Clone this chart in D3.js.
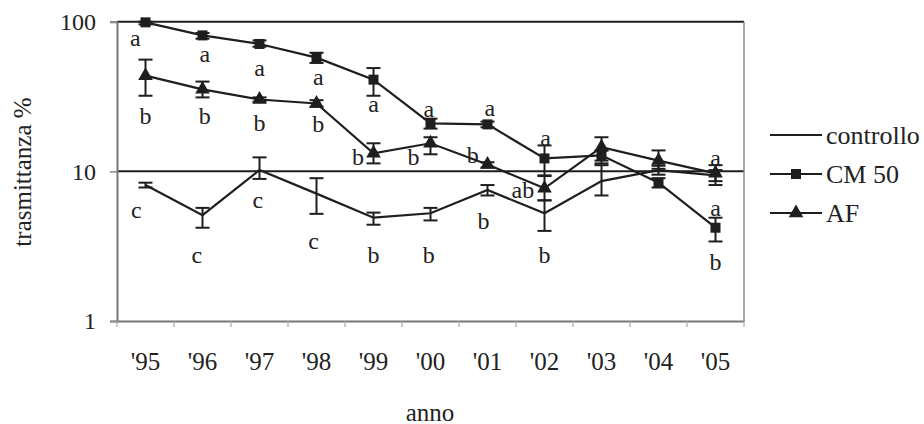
<!DOCTYPE html>
<html><head><meta charset="utf-8">
<script src="https://cdn.jsdelivr.net/npm/d3@7/dist/d3.min.js"></script>
</head>
<body style="margin:0;background:#fff"><svg id="c" width="924" height="424"></svg>
<script>
const years = ["'95","'96","'97","'98","'99","'00","'01","'02","'03","'04","'05"];
const yTicks = [1, 10, 100];

const controllo   = [8.1, 5.1, 10.2, 7.1, 4.9, 5.25, 7.5, 5.25, 8.6, 10.2, 9.4];
const controlloLo = [7.8, 4.2, 8.9, 5.2, 4.4, 4.7, 6.9, 4.0, 6.9, 9.5, 8.6];
const controlloHi = [8.4, 5.7, 12.4, 9.0, 5.3, 5.7, 8.1, 6.4, 11.0, 10.9, 10.2];

const cm50   = [99, 81, 71, 57.5, 41, 20.9, 20.6, 12.2, 12.8, 8.4, 4.2];
const cm50Lo = [96, 77, 68, 53, 32, 19.3, 19.7, 9.4, 11.8, 7.8, 3.4];
const cm50Hi = [100, 84, 75, 62, 49, 22.5, 21.5, 14.9, 13.8, 9.0, 4.9];

const af   = [43.6, 35.3, 30.2, 28.4, 13.2, 15.4, 11.1, 7.7, 14.5, 11.8, 9.7];
const afLo = [32, 31.2, 29.2, 27, 11.3, 13, 10.6, 6.4, 11.3, 10.4, 8.1];
const afHi = [55.8, 39.8, 31.2, 29.9, 15.4, 16.9, 11.5, 9.3, 16.9, 13.8, 11];

// significance letters: [year index, horizontal shift (band fraction), value, letter]
const letters = [
  [0,-0.18,78,"a"],[1,0.04,61,"a"],[2,0,49.4,"a"],[3,0.03,43,"a"],[4,0,28,"a"],
  [5,-0.03,26.3,"a"],[6,0.04,26.7,"a"],[7,0.02,16.6,"a"],[10,0,12.2,"a"],[10,0,5.67,"a"],[10,0,2.47,"b"],
  [0,0,23.6,"b"],[1,0.04,23.6,"b"],[2,0,21.2,"b"],[3,0.03,20.6,"b"],
  [4,-0.27,12.4,"b"],[5,-0.3,12.4,"b"],[6,-0.26,12.8,"b"],[7,-0.38,7.47,"ab"],
  [0,-0.16,5.5,"c"],[1,-0.1,2.75,"c"],[2,-0.03,6.41,"c"],[3,-0.05,3.41,"c"],
  [4,0,2.75,"b"],[5,-0.03,2.75,"b"],[6,-0.07,4.64,"b"],[7,0,2.75,"b"]
];

const series = [
  {name:"controllo", v:controllo, lo:controlloLo, hi:controlloHi, marker:null},
  {name:"CM 50", v:cm50, lo:cm50Lo, hi:cm50Hi, marker:"square"},
  {name:"AF", v:af, lo:afLo, hi:afHi, marker:"triangle"}
];

const svg = d3.select("#c");
const L=117, R=744, T=21.7, B=321;
const x = d3.scaleBand().domain(years).range([L,R]);
const y = d3.scaleLog().domain([1,100]).range([B,T]);
const cx = i => x(years[i]) + x.bandwidth()/2;
const ink = "#1e1e1e";
const FONT = "Liberation Serif";

// gridlines
svg.append("g").selectAll("line").data(yTicks.filter(d=>d>1)).join("line")
  .attr("x1",L).attr("x2",R).attr("y1",d=>y(d)).attr("y2",d=>y(d))
  .attr("stroke",ink).attr("stroke-width",2);
// plot frame right
svg.append("line").attr("x1",R).attr("x2",R).attr("y1",T).attr("y2",B).attr("stroke","#888").attr("stroke-width",1.5);

// y axis
const ya = svg.append("g").attr("transform",`translate(${L},0)`)
  .call(d3.axisLeft(y).tickValues(yTicks).tickFormat(d3.format("d")).tickSize(7).tickPadding(14));
ya.select(".domain").attr("stroke","#777").attr("stroke-width",2);
ya.selectAll(".tick line").attr("stroke","#888").attr("stroke-width",1.5);
ya.selectAll(".tick text").style("font-family",FONT).style("font-size","24px").attr("fill","#222");

// x axis
const xa = svg.append("g").attr("transform",`translate(0,${B})`)
  .call(d3.axisBottom(x).tickSize(0).tickPadding(31));
xa.select(".domain").attr("stroke","#777").attr("stroke-width",2);
xa.selectAll(".tick text").style("font-family",FONT).style("font-size","25px").attr("fill","#222");
// boundary ticks
svg.append("g").selectAll("line").data(d3.range(years.length+1)).join("line")
  .attr("x1",i=>L+i*x.step()).attr("x2",i=>L+i*x.step())
  .attr("y1",B).attr("y2",B+6).attr("stroke","#aaa").attr("stroke-width",1.2);

// axis titles
svg.append("text").attr("x",430).attr("y",412).attr("text-anchor","middle")
  .attr("dominant-baseline","central").style("font-family",FONT).style("font-size","25px").attr("fill","#222").text("anno");
svg.append("text").attr("transform","translate(22,172) rotate(-90)").attr("text-anchor","middle")
  .attr("dominant-baseline","central").style("font-family",FONT).style("font-size","25px").attr("fill","#222").text("trasmittanza %");

// lines
const line = d3.line().x((d,i)=>cx(i)).y(d=>y(d));
series.forEach(s=>{
  svg.append("path").datum(s.v).attr("d",line).attr("fill","none")
    .attr("stroke",ink).attr("stroke-width",2.2);
  const g = svg.append("g");
  s.v.forEach((v,i)=>{
    const xc=cx(i), cw=7;
    g.append("line").attr("x1",xc).attr("x2",xc).attr("y1",y(s.lo[i])).attr("y2",y(s.hi[i])).attr("stroke",ink).attr("stroke-width",2);
    [s.lo[i],s.hi[i]].forEach(e=>g.append("line").attr("x1",xc-cw).attr("x2",xc+cw).attr("y1",y(e)).attr("y2",y(e)).attr("stroke",ink).attr("stroke-width",2));
  });
});
// markers
function drawMarker(g, type, px, py, sz){
  if(type==="square") g.append("rect").attr("x",px-sz/2).attr("y",py-sz/2).attr("width",sz).attr("height",sz).attr("fill",ink);
  else if(type==="triangle") g.append("path").attr("d",d3.symbol(d3.symbolTriangle, sz*sz*0.55)()).attr("transform",`translate(${px},${py})`).attr("fill",ink);
}
series.forEach(s=>{
  if(!s.marker) return;
  const g=svg.append("g");
  s.v.forEach((v,i)=>drawMarker(g,s.marker,cx(i),y(v),s.marker==="square"?10:13));
});

// letters
svg.append("g").selectAll("text").data(letters).join("text")
  .attr("x",d=>cx(d[0])+d[1]*x.step()).attr("y",d=>y(d[2]))
  .attr("text-anchor","middle").attr("dominant-baseline","central")
  .style("font-family",FONT).style("font-size","24px").attr("fill","#222").text(d=>d[3]);

// legend
const lg = svg.append("g");
series.forEach((s,k)=>{
  const ly = 135 + k*39;
  lg.append("line").attr("x1",770).attr("x2",822).attr("y1",ly).attr("y2",ly).attr("stroke",ink).attr("stroke-width",2);
  if(s.marker) drawMarker(lg,s.marker,796,ly,s.marker==="square"?10:13);
  lg.append("text").attr("x",826).attr("y",ly).attr("dominant-baseline","central")
    .style("font-family",FONT).style("font-size","26px").attr("fill","#222").text(s.name);
});
</script></body></html>
